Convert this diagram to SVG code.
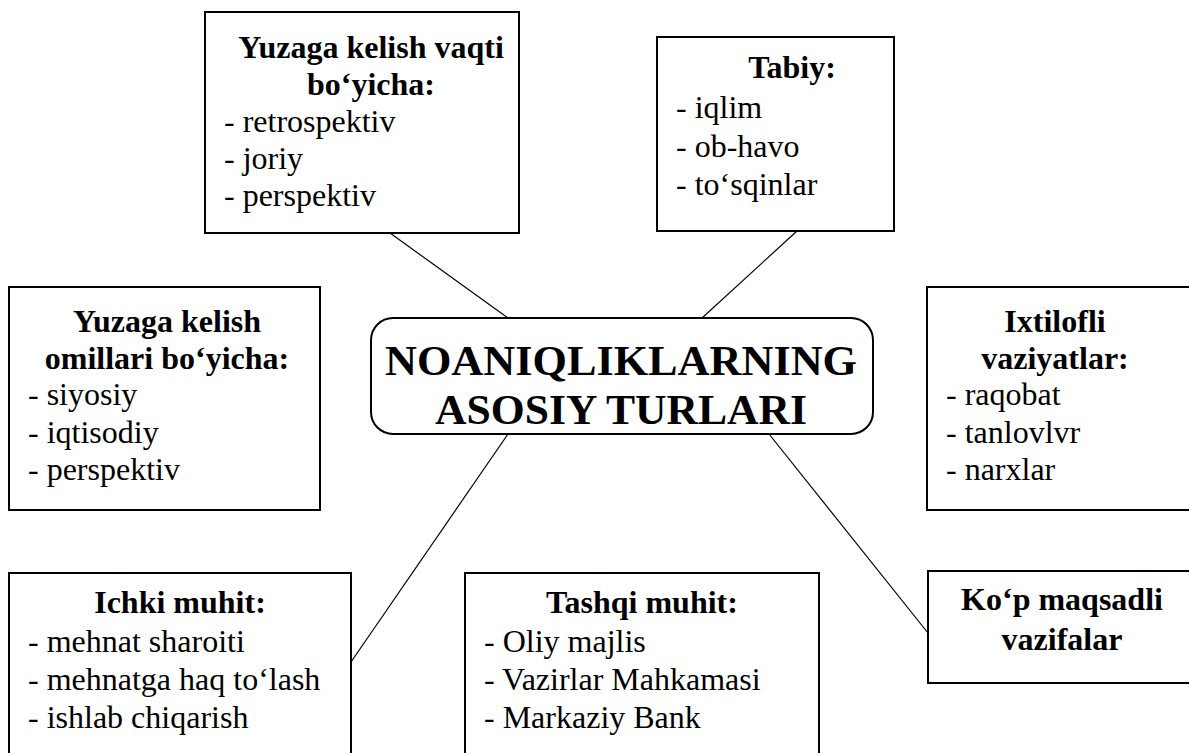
<svg xmlns="http://www.w3.org/2000/svg" width="1189" height="753" viewBox="0 0 1189 753">
  <style>
    .box { fill: #ffffff; stroke: #000000; stroke-width: 2; }
    .hub { fill: #ffffff; stroke: #000000; stroke-width: 2; }
    .link { stroke: #000000; stroke-width: 1.2; fill: none; }
    .txt { font-family: "Liberation Serif", "Times New Roman", serif; fill: #000000; }
    .title { font-size: 32px; font-weight: bold; text-anchor: middle; }
    .item { font-size: 32px; }
    .hubtext { font-size: 42px; font-weight: bold; text-anchor: middle; }
  </style>
  <rect width="1189" height="753" fill="#ffffff"/>

  <!-- connectors from the central node to the surrounding boxes -->
  <g id="connectors">
    <line class="link" x1="390" y1="233" x2="508" y2="318"/>
    <line class="link" x1="797" y1="231" x2="702" y2="318"/>
    <line class="link" x1="508" y1="434" x2="351" y2="662"/>
    <line class="link" x1="769" y1="434" x2="928" y2="633"/>
  </g>

  <g class="txt">
    <g id="node-center">
      <rect class="hub" x="371" y="318" width="502" height="116" rx="22" ry="22"/>
      <text class="hubtext" x="621" y="375" textLength="472" lengthAdjust="spacingAndGlyphs">NOANIQLIKLARNING</text>
      <text class="hubtext" x="621" y="424" textLength="372" lengthAdjust="spacingAndGlyphs">ASOSIY TURLARI</text>
    </g>

    <g id="node-time">
      <rect class="box" x="205" y="12" width="314" height="221"/>
      <text class="title" x="371" y="58">Yuzaga kelish vaqti</text>
      <text class="title" x="371" y="95">bo‘yicha:</text>
      <text class="item" x="224" y="132">- retrospektiv</text>
      <text class="item" x="224" y="169">- joriy</text>
      <text class="item" x="224" y="206">- perspektiv</text>
    </g>

    <g id="node-natural">
      <rect class="box" x="657" y="37" width="237" height="194"/>
      <text class="title" x="792" y="78">Tabiy:</text>
      <text class="item" x="676" y="118">- iqlim</text>
      <text class="item" x="676" y="157">- ob-havo</text>
      <text class="item" x="676" y="195">- to‘sqinlar</text>
    </g>

    <g id="node-factors">
      <rect class="box" x="9" y="287" width="311" height="223"/>
      <text class="title" x="167" y="332">Yuzaga kelish</text>
      <text class="title" x="167" y="369">omillari bo‘yicha:</text>
      <text class="item" x="28" y="405">- siyosiy</text>
      <text class="item" x="28" y="443">- iqtisodiy</text>
      <text class="item" x="28" y="480">- perspektiv</text>
    </g>

    <g id="node-conflict">
      <rect class="box" x="927" y="287" width="270" height="223"/>
      <text class="title" x="1055" y="332">Ixtilofli</text>
      <text class="title" x="1055" y="369">vaziyatlar:</text>
      <text class="item" x="946" y="405">- raqobat</text>
      <text class="item" x="946" y="443">- tanlovlvr</text>
      <text class="item" x="946" y="480">- narxlar</text>
    </g>

    <g id="node-multigoal">
      <rect class="box" x="928" y="571" width="270" height="112"/>
      <text class="title" x="1062" y="610">Ko‘p maqsadli</text>
      <text class="title" x="1062" y="650">vazifalar</text>
    </g>

    <g id="node-internal">
      <rect class="box" x="9" y="573" width="342" height="190"/>
      <text class="title" x="180" y="613">Ichki muhit:</text>
      <text class="item" x="28" y="652">- mehnat sharoiti</text>
      <text class="item" x="28" y="690">- mehnatga haq to‘lash</text>
      <text class="item" x="28" y="728">- ishlab chiqarish</text>
    </g>

    <g id="node-external">
      <rect class="box" x="465" y="573" width="354" height="190"/>
      <text class="title" x="642" y="613">Tashqi muhit:</text>
      <text class="item" x="484" y="652">- Oliy majlis</text>
      <text class="item" x="484" y="690">- Vazirlar Mahkamasi</text>
      <text class="item" x="484" y="728">- Markaziy Bank</text>
    </g>
  </g>
</svg>
